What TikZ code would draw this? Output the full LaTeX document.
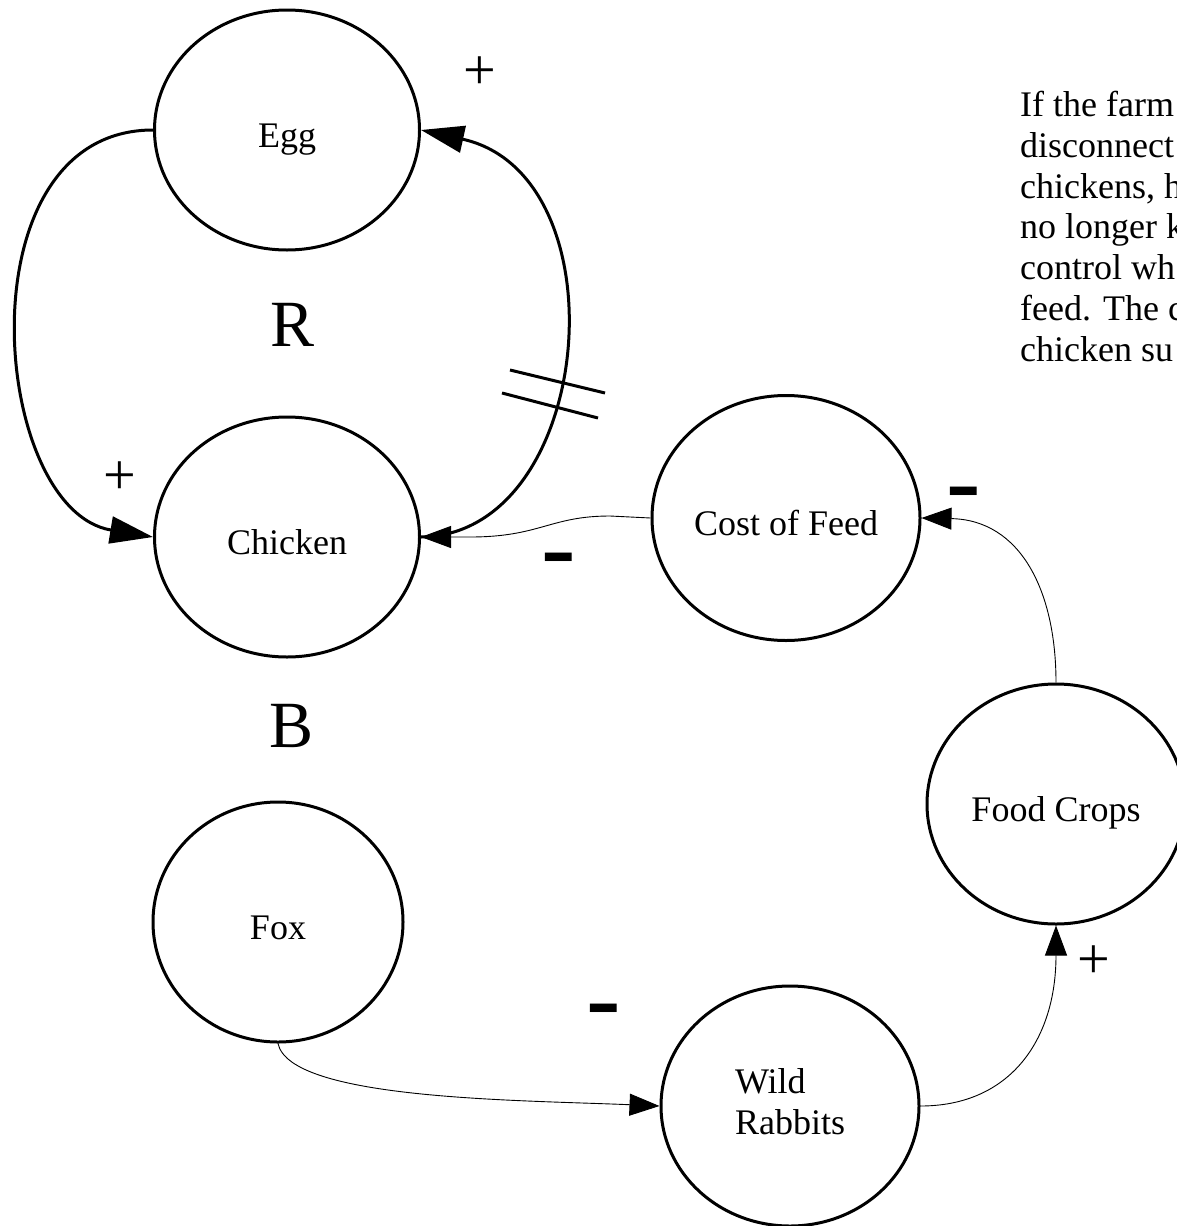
\documentclass[tikz,border=0pt]{standalone}
\usepackage{fontspec}
\setmainfont{Liberation Serif}
\usetikzlibrary{arrows.meta,shapes.geometric}

\begin{document}
\begin{tikzpicture}[x=1pt,y=-1pt,line join=round,
		font=\fontsize{36}{40.8}\selectfont,
		var/.style={ellipse,draw,line width=3pt,minimum width=258pt,minimum height=240pt,inner sep=0pt,text height=34pt,text depth=0pt},
		link/.style={-{Triangle[length=30pt,width=22pt]},line width=0.9pt},
		rloop/.style={-{Triangle[length=43pt,width=27pt]},line width=3pt},
		plus/.style={font=\fontsize{58}{58}\selectfont},
		minus/.style={inner sep=0pt,yshift=-26pt},
		big/.style={font=\fontsize{66}{66}\selectfont}]
			\def \W{1177};
			\def \H{1226};
			\clip (0,0) rectangle (\W,\H);
			% variables
			\node[var,minimum width=265pt] (egg) at (287,130) {Egg};
			\node[var,minimum width=265pt] (chicken) at (287,537) {Chicken};
			\node[var,minimum width=268pt,minimum height=245pt] (cost) at (786,518) {Cost of Feed};
			\node[var] (crops) at (1056,804) {Food Crops};
			\node[var,minimum width=250pt] (fox) at (278,922) {Fox};
			\node[var,text height=,text depth=] (rabbits) at (790,1106) {\begin{tabular}{@{}l@{}}Wild\\Rabbits\end{tabular}};
			% loop names
			\node[big] (R) at (293,325) {R};
			\node[big] (B) at (292,726) {B};
			% reinforcing loop
			\draw[rloop] (egg.west) .. controls (-40,130) and (-10,510) .. (chicken.west);
			\draw[rloop] (chicken.east) .. controls (595,535) and (625,175) .. (egg.east);
			\draw[line width=3pt] (510,370) -- (605,393) (502,393) -- (598,418);
			% balancing chain
			\draw[link] (cost.west) -- (610,516) .. controls (550,516) and (540,537) .. (470,537) -- (chicken.east);
			\draw[link] (crops.north) .. controls (1056,590) and (1020,520) .. (cost.east);
			\draw[link] (rabbits.east) .. controls (1010,1106) and (1056,1040) .. (crops.south);
			\draw[link] (fox.south) .. controls (290,1100) and (520,1100) .. (rabbits.west);
			% polarities
			\foreach \p/\n in {{(480,73)}/1,{(120,478)}/2,{(1094,962)}/3}
			{
				\node[plus] (p\n) at \p {+};
			}
			\foreach \p/\n in {{(559,557)}/1,{(964,491)}/2,{(604,1008)}/3}
			{
				\node[minus] (m\n) at \p {\scalebox{1.6}[4.7]{−}};
			}
			% note, cut off at the right edge
			\node[anchor=north west,align=left,inner sep=0pt] (note) at (1020,91) {If the farm\\disconnect\\chickens, h\\no longer k\\control wh\\feed. The c\\chicken su};
		\end{tikzpicture}
\end{document}
